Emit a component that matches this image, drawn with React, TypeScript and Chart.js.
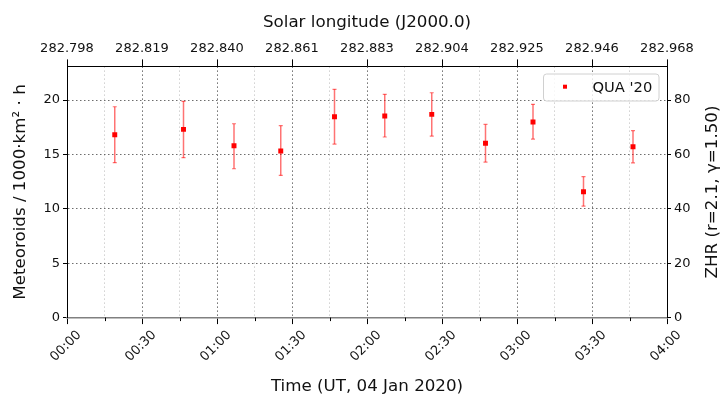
import React, { useEffect, useRef } from 'react';
import { Chart, registerables } from 'chart.js';

Chart.register(...registerables);

// ---- data ----
const timeMinutes = [19.1, 46.6, 66.8, 85.5, 107.0, 127.1, 145.9, 167.4, 186.4, 206.6, 226.4];
const rates = [16.81, 17.3, 15.8, 15.31, 18.46, 18.53, 18.68, 16.02, 17.98, 11.57, 15.71];
const rateLow = [14.24, 14.7, 13.68, 13.07, 15.95, 16.6, 16.69, 14.3, 16.41, 10.25, 14.23];
const rateHigh = [19.38, 19.88, 17.82, 17.64, 20.98, 20.52, 20.67, 17.76, 19.6, 12.95, 17.18];
const timeTickLabels = ['00:00', '00:30', '01:00', '01:30', '02:00', '02:30', '03:00', '03:30', '04:00'];
const solarLongitudeLabels = ['282.798', '282.819', '282.840', '282.861', '282.883', '282.904', '282.925', '282.946', '282.968'];
const zhrFactor = 4;
const seriesLabel = "QUA '20";
const leftTitle = 'Meteoroids / 1000·km² · h';
const rightTitle = 'ZHR (r=2.1, γ=1.50)';
const topTitle = 'Solar longitude (J2000.0)';
const bottomTitle = 'Time (UT, 04 Jan 2020)';

const FONT = "'DejaVu Sans', sans-serif";

export default function App() {
  const ref = useRef<HTMLCanvasElement>(null);

  useEffect(() => {
    const canvas = ref.current!;
    Chart.defaults.font.family = FONT;

    const markerData = timeMinutes.map((t, i) => ({ x: t, y: rates[i] }));
    const errData: any[] = [];
    timeMinutes.forEach((t, i) => {
      errData.push({ x: t, y: rateLow[i] }, { x: t, y: rateHigh[i] }, { x: t, y: null });
    });

    const yMax = 23.09;
    const box = { left: 67, right: 55, top: 66.4, bottom: 76.4 };
    const tickFont = { family: FONT, size: 13 };
    const titleFont = { family: FONT, size: 16.7 };
    const textColor = '#111';

    const extras = {
      id: 'extras',
      afterDraw(chart: any) {
        const { ctx, chartArea, scales } = chart;
        ctx.save();
        // minor ticks on bottom axis
        ctx.strokeStyle = '#000';
        ctx.lineWidth = 1;
        for (let v = 15; v < 240; v += 30) {
          const px = Math.round(scales.x.getPixelForValue(v)) + 0.5;
          ctx.beginPath();
          ctx.moveTo(px, chartArea.bottom);
          ctx.lineTo(px, chartArea.bottom + 3.5);
          ctx.stroke();
        }
        // right axis title (reads bottom to top)
        ctx.save();
        ctx.translate(chart.width - 9.5, (chartArea.top + chartArea.bottom) / 2);
        ctx.rotate(-Math.PI / 2);
        ctx.font = `16.7px ${FONT}`;
        ctx.fillStyle = textColor;
        ctx.textAlign = 'center';
        ctx.textBaseline = 'middle';
        ctx.fillText(rightTitle, 0, 0);
        ctx.restore();
        // legend
        const lw = 115.5, lh = 27;
        const lx = chartArea.right - 8 - lw;
        const ly = chartArea.top + 7.6;
        ctx.beginPath();
        const r = 3;
        ctx.moveTo(lx + r, ly);
        ctx.arcTo(lx + lw, ly, lx + lw, ly + lh, r);
        ctx.arcTo(lx + lw, ly + lh, lx, ly + lh, r);
        ctx.arcTo(lx, ly + lh, lx, ly, r);
        ctx.arcTo(lx, ly, lx + lw, ly, r);
        ctx.closePath();
        ctx.fillStyle = 'rgba(255,255,255,0.8)';
        ctx.fill();
        ctx.strokeStyle = '#d0d0d0';
        ctx.lineWidth = 1;
        ctx.stroke();
        ctx.fillStyle = 'red';
        ctx.fillRect(lx + 21.5 - 2, ly + 12.7 - 2, 4, 4);
        ctx.font = `14.7px ${FONT}`;
        ctx.fillStyle = textColor;
        ctx.textAlign = 'left';
        ctx.textBaseline = 'middle';
        ctx.fillText(seriesLabel, lx + 49, ly + 13.8);
        ctx.restore();
      },
    };

    const chart = new Chart(canvas, {
      type: 'line',
      data: {
        datasets: [
          {
            label: seriesLabel,
            data: markerData,
            showLine: false,
            pointStyle: 'rect',
            pointRadius: 3.5,
            pointBackgroundColor: 'red',
            pointBorderWidth: 0,
            borderColor: 'red',
            xAxisID: 'x',
            yAxisID: 'y',
          },
          {
            label: 'error',
            data: errData,
            spanGaps: false,
            borderColor: 'rgba(255,0,0,0.55)',
            borderWidth: 1.5,
            pointStyle: 'line',
            pointRadius: 2,
            pointBorderColor: 'rgba(255,0,0,0.55)',
            pointBorderWidth: 1.2,
            xAxisID: 'x',
            yAxisID: 'y',
          },
        ],
      },
      options: {
        animation: false,
        responsive: false,
        devicePixelRatio: 1,
        layout: { padding: 0 },
        plugins: { legend: { display: false }, tooltip: { enabled: false }, title: { display: false } },
        scales: {
          x: {
            type: 'linear',
            position: 'bottom',
            min: 0,
            max: 240,
            afterFit: (s: any) => { s.height = box.bottom; },
            ticks: {
              stepSize: 15,
              autoSkip: false,
              minRotation: 45,
              maxRotation: 45,
              labelOffset: 12.2,
              padding: 3.3,
              font: tickFont,
              color: textColor,
              callback: (v: any) => (Math.round(v) % 30 === 0 ? timeTickLabels[Math.round(v / 30)] : ''),
            },
            grid: {
              color: (c: any) => (c.tick && Math.round(c.tick.value) % 30 === 0 ? 'rgba(60,60,60,0.75)' : 'rgba(150,150,150,0.45)'),
              tickColor: (c: any) => (c.tick && Math.round(c.tick.value) % 30 === 0 ? '#000' : 'rgba(0,0,0,0)'),
              tickLength: 6.5,
              lineWidth: 1,
            },
            border: { color: '#808080', width: 1.5, dash: [1.5, 2.5] },
            title: { display: true, text: bottomTitle, font: titleFont, color: textColor, padding: { top: 0, bottom: -2.5 } },
          },
          x2: {
            type: 'linear',
            position: 'top',
            min: 0,
            max: 240,
            afterFit: (s: any) => { s.height = box.top; },
            ticks: {
              stepSize: 30,
              autoSkip: false,
              maxRotation: 0,
              minRotation: 0,
              padding: 3.4,
              font: tickFont,
              color: textColor,
              callback: (v: any) => solarLongitudeLabels[Math.round(v / 30)],
            },
            grid: { drawOnChartArea: false, tickLength: 7, tickColor: '#000' },
            border: { color: '#000', width: 1 },
            title: { display: true, text: topTitle, font: titleFont, color: textColor, padding: { top: 12.2, bottom: 0 } },
          },
          y: {
            type: 'linear',
            position: 'left',
            min: 0,
            max: yMax,
            afterFit: (s: any) => { s.width = box.left; },
            ticks: { stepSize: 5, includeBounds: false, padding: 3, font: tickFont, color: textColor },
            grid: { color: 'rgba(60,60,60,0.75)', tickColor: '#000', tickLength: 4 },
            border: { color: '#000', width: 1, dash: [1.5, 2.5] },
            title: { display: true, text: leftTitle, font: titleFont, color: textColor, padding: { top: 10.5, bottom: 0 } },
          },
          y2: {
            type: 'linear',
            position: 'right',
            min: 0,
            max: yMax * zhrFactor,
            afterFit: (s: any) => { s.width = box.right; },
            ticks: { stepSize: 20, includeBounds: false, padding: 3, font: tickFont, color: textColor },
            grid: { drawOnChartArea: false, tickColor: '#000', tickLength: 4 },
            border: { color: '#000', width: 1 },
          },
        },
      } as any,
      plugins: [extras],
    });

    return () => chart.destroy();
  }, []);

  return (
    <div style={{ position: 'fixed', left: 0, top: 0, width: 722, height: 394, background: '#fff' }}>
      <canvas ref={ref} width={722} height={394} style={{ width: 722, height: 394, display: 'block' }} />
    </div>
  );
}
